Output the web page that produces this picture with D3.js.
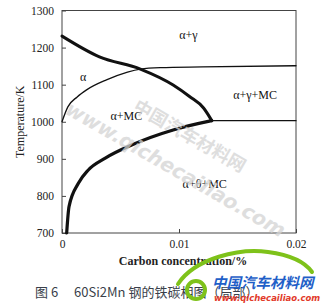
<!DOCTYPE html>
<html>
<head>
<meta charset="utf-8">
<script src="https://cdn.jsdelivr.net/npm/d3@7"></script>
<style>
  body { margin: 0; background: #fff; }
  svg { display: block; }
</style>
</head>
<body>
<div id="chart"></div>
<script>
// axis ticks
const tempTicks = [700, 800, 900, 1000, 1100, 1200, 1300];
const carbonTicks = [0, 0.01, 0.02];

// alpha / gamma boundary (thick)
const alphaGammaC = [0, 0.0032, 0.0067, 0.0095, 0.0109, 0.0121, 0.0128];
const alphaGammaT = [1231, 1175, 1142, 1099, 1068, 1037, 1003];

// MC solvus (thin)
const mcSolvusC = [0, 0.0005, 0.0013, 0.0021, 0.0038, 0.0056, 0.0067, 0.0084, 0.012, 0.02];
const mcSolvusT = [1000, 1040, 1067, 1086, 1113, 1134, 1142, 1146, 1148, 1151];

// cementite boundary (thick)
const thetaC = [0.0004, 0.0006, 0.0014, 0.00225, 0.0037, 0.006, 0.0095, 0.0128];
const thetaT = [700, 771, 834, 870, 902, 938, 978, 1003];

// eutectoid line (thin)
const eutectoidC = [0.0128, 0.02];
const eutectoidT = [1003, 1003];

// phase field labels
const fieldNames = ["α", "α+γ", "α+γ+MC", "α+MC", "α+θ+MC"];
const fieldC = [0.0018, 0.0108, 0.0165, 0.0055, 0.0122];
const fieldT = [1118, 1230, 1068, 1013, 830];

const width = 325, height = 307;
const svg = d3.select("#chart")
  .append("svg")
  .attr("width", width)
  .attr("height", height);

const x = d3.scaleLinear().domain([0, 0.02]).range([62, 296]);
const y = d3.scaleLinear().domain([700, 1300]).range([233, 10.5]);

const serif = "'Liberation Serif', 'Times New Roman', serif";

// frame
svg.append("rect")
  .attr("x", x(0))
  .attr("y", y(1300))
  .attr("width", x(0.02) - x(0))
  .attr("height", y(700) - y(1300))
  .attr("fill", "none")
  .attr("stroke", "#444")
  .attr("stroke-width", 1);

// axes
const yAxis = svg.append("g")
  .attr("transform", `translate(${x(0)},0)`)
  .call(d3.axisLeft(y).tickValues(tempTicks).tickSize(-4).tickPadding(8).tickFormat(d3.format("d")));

const xAxis = svg.append("g")
  .attr("transform", `translate(0,${y(700)})`)
  .call(d3.axisBottom(x).tickValues(carbonTicks).tickSize(-4).tickPadding(7)
    .tickFormat(d => d === 0 ? "0" : d3.format(".2f")(d)));

[yAxis, xAxis].forEach(g => {
  g.attr("font-family", null);
  g.select(".domain").remove();
  g.selectAll("line").attr("stroke", "#444");
  g.selectAll("text")
    .style("font-family", serif)
    .style("font-size", "11.5px")
    .attr("fill", "#222");
});

// axis titles
svg.append("text")
  .attr("transform", `translate(24,${(y(700) + y(1300)) / 2}) rotate(-90)`)
  .attr("text-anchor", "middle")
  .attr("font-family", serif)
  .attr("font-size", 12)
  .attr("fill", "#222")
  .text("Temperature/K");

svg.append("text")
  .attr("x", 183)
  .attr("y", 265)
  .attr("text-anchor", "middle")
  .attr("font-family", serif)
  .attr("font-size", 12)
  .attr("font-weight", "bold")
  .attr("fill", "#222")
  .text("Carbon concentration/%");

// phase boundaries
const line = d3.line()
  .x(d => x(d[0]))
  .y(d => y(d[1]))
  .curve(d3.curveMonotoneX);

const zip = (cs, ts) => cs.map((c, i) => [c, ts[i]]);

const boundaries = [
  { pts: zip(mcSolvusC, mcSolvusT), w: 1.3 },
  { pts: zip(eutectoidC, eutectoidT), w: 1.3 },
  { pts: zip(alphaGammaC, alphaGammaT), w: 3 },
  { pts: zip(thetaC, thetaT), w: 3.2 }
];

svg.selectAll("path.boundary")
  .data(boundaries)
  .join("path")
  .attr("class", "boundary")
  .attr("d", d => line(d.pts))
  .attr("fill", "none")
  .attr("stroke", "#111")
  .attr("stroke-width", d => d.w)
  .attr("stroke-linecap", "round");

// field labels
svg.selectAll("text.field")
  .data(fieldNames)
  .join("text")
  .attr("class", "field")
  .attr("x", (d, i) => x(fieldC[i]))
  .attr("y", (d, i) => y(fieldT[i]))
  .attr("text-anchor", "middle")
  .attr("dominant-baseline", "middle")
  .attr("font-family", serif)
  .attr("font-size", 12)
  .attr("fill", "#111")
  .text(d => d);

// faint watermark
svg.append("text")
  .attr("transform", "translate(64,113) rotate(30)")
  .attr("font-family", "'DejaVu Sans', sans-serif")
  .attr("font-size", 20)
  .attr("font-weight", "bold")
  .attr("font-style", "italic")
  .attr("fill", "#d4d4d4")
  .attr("opacity", 0.75)
  .text("www.qichecailiao.com");

svg.append("text")
  .attr("transform", "translate(132,110) rotate(30)")
  .attr("font-family", "'Noto Sans CJK SC', sans-serif")
  .attr("font-size", 18)
  .attr("font-weight", "bold")
  .attr("fill", "#d4d4d4")
  .attr("opacity", 0.75)
  .text("中国汽车材料网");

// caption
svg.append("text")
  .attr("x", 35)
  .attr("y", 297)
  .attr("font-family", "'Noto Sans CJK SC', sans-serif")
  .attr("font-size", 13)
  .attr("fill", "#3a3f4a")
  .attr("xml:space", "preserve")
  .text("图 6　 60Si2Mn 钢的铁碳相图（局部）");

// logo
svg.append("path")
  .attr("d", "M178,284 C195,258 240,248 268,252 C290,255 305,262 312,272")
  .attr("fill", "none")
  .attr("stroke", "#7ec21a")
  .attr("stroke-width", 4)
  .attr("stroke-linecap", "round");

svg.append("circle")
  .attr("cx", 196)
  .attr("cy", 290)
  .attr("r", 9)
  .attr("fill", "none")
  .attr("stroke", "#7ec21a")
  .attr("stroke-width", 4);

svg.append("text")
  .attr("x", 212)
  .attr("y", 288)
  .attr("font-family", "'Noto Sans CJK SC', sans-serif")
  .attr("font-size", 14.5)
  .attr("font-weight", "bold")
  .attr("font-style", "italic")
  .attr("fill", "#1f5fc8")
  .text("中国汽车材料网");

svg.append("text")
  .attr("x", 214)
  .attr("y", 301)
  .attr("font-family", "'DejaVu Sans', sans-serif")
  .attr("font-size", 8.5)
  .attr("font-weight", "bold")
  .attr("font-style", "italic")
  .attr("fill", "#e23a2a")
  .text("www.qichecailiao.com");
</script>
</body>
</html>
